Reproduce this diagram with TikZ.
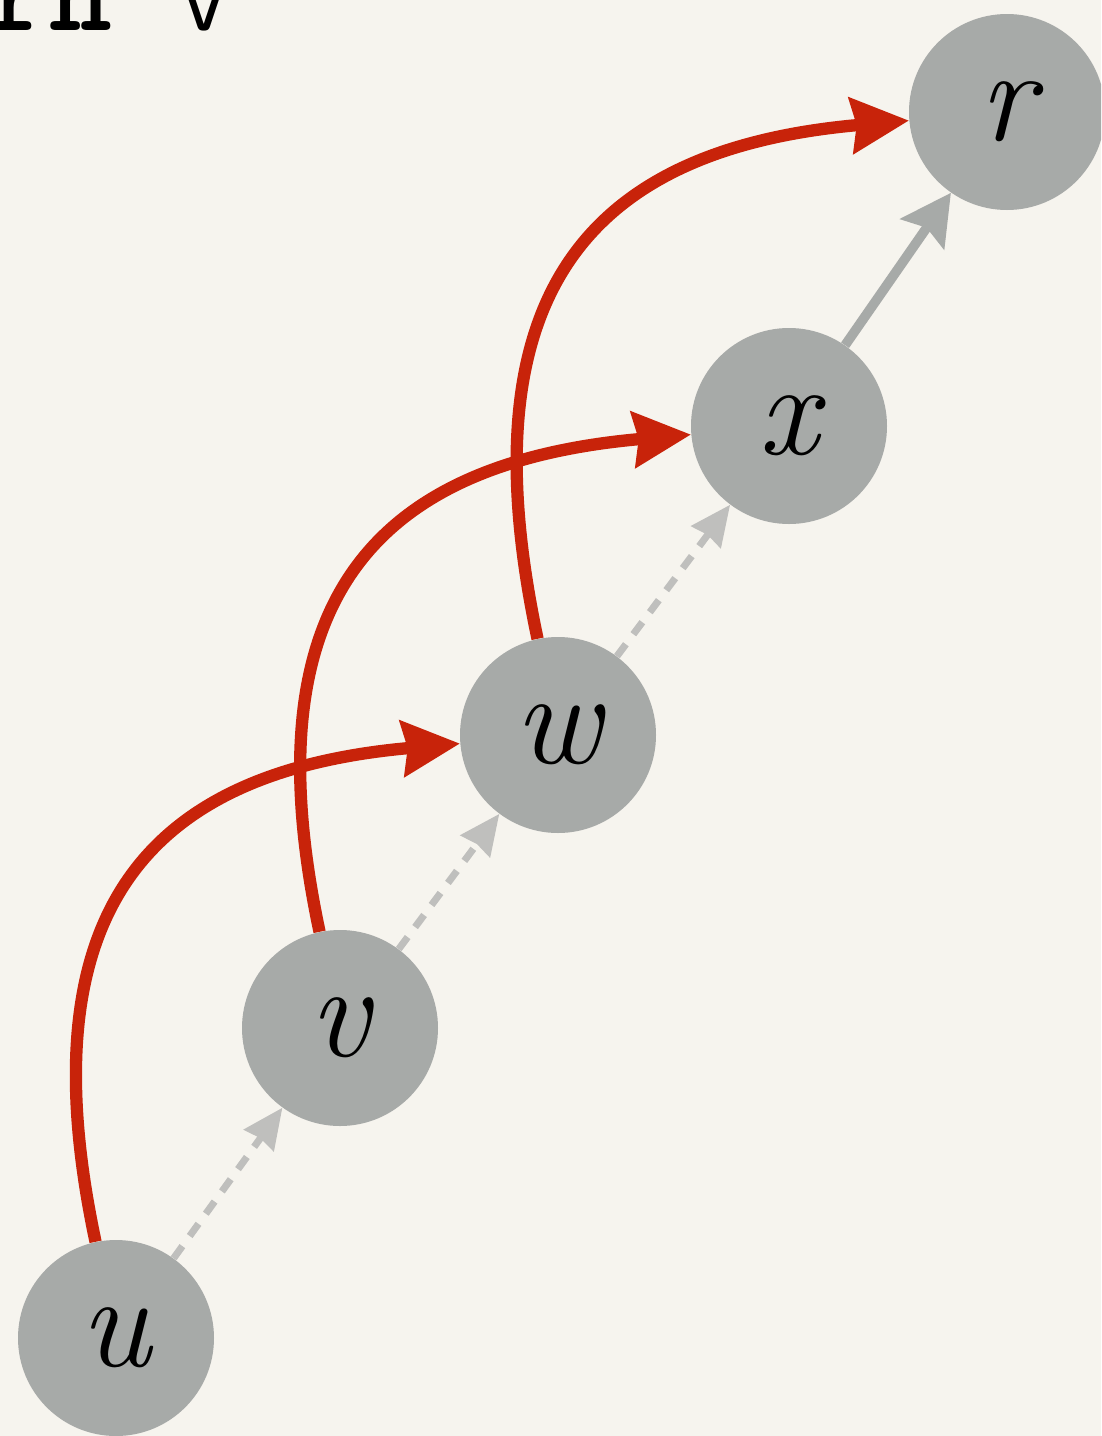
\documentclass[tikz,border=0pt]{standalone}
\usepackage{fontspec}
\usepackage{xcolor}
\usetikzlibrary{arrows.meta}

\definecolor{paper}{HTML}{F6F4EE}
\definecolor{nodegray}{HTML}{A7AAA8}
\definecolor{dashgray}{HTML}{BFBFBD}
\definecolor{pathred}{HTML}{C8230A}

\begin{document}
\begin{tikzpicture}[
    vert/.style={circle, fill=nodegray, minimum size=3.92cm, inner sep=0pt,
      font=\itshape\fontsize{76}{84}\selectfont},
    jump/.style={-{Stealth[length=1.15cm, width=1.1cm, inset=0.1cm]}, line width=7pt, draw=pathred,
      looseness=1.35},
    link/.style={-{Stealth[length=1cm, width=1.05cm, inset=0.15cm]}, line width=5.5pt, draw=nodegray},
    weak/.style={-{Stealth[length=0.8cm, width=0.72cm, inset=0.05cm]}, line width=4pt,
      draw=dashgray, dash pattern=on 0.3cm off 0.25cm}
  ]
    \fill[paper] (0,0) rectangle (22.02,-28.72);
    \useasboundingbox (0,0) rectangle (22.02,-28.72);
    \clip (0,0) rectangle (22.02,-28.72);

    % code line, cut off at the top
    \node[anchor=base west, inner sep=0pt, font=\ttfamily\fontsize{68}{76}\selectfont]
      (code) at (-5.3,-0.6) {\textbf{return} v};

    \node[vert] (u) at (2.32,-26.76) {u};
    \node[vert] (v) at (6.80,-20.56) {v};
    \node[vert] (w) at (11.16,-14.70) {w};
    \node[vert] (x) at (15.78,-8.52) {x};
    \node[vert] (r) at (20.14,-2.24) {r};

    \draw[weak] (u) -- (v);
    \draw[weak] (v) -- (w);
    \draw[weak] (w) -- (x);
    \draw[link] (x) -- (r);

    \draw[jump] (u) to[out=102, in=185] (w);
    \draw[jump] (v) to[out=102, in=185] (x);
    \draw[jump] (w) to[out=102, in=185] (r);
\end{tikzpicture}
\end{document}
